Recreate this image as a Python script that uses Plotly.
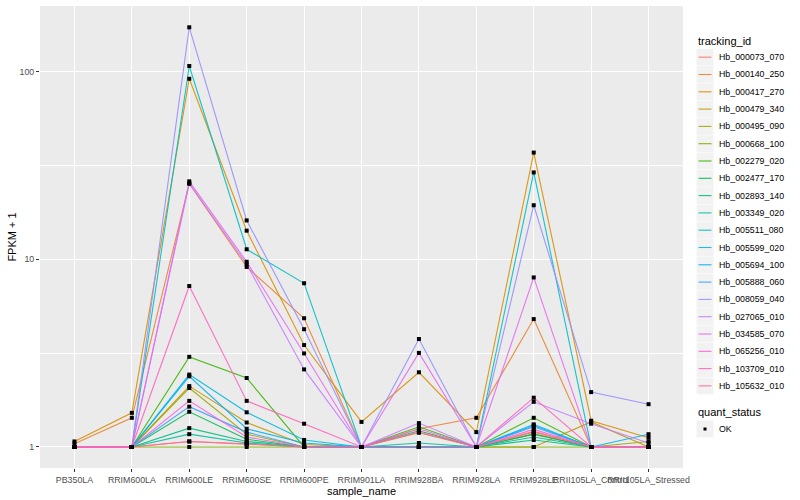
import plotly.graph_objects as go

samples = ["PB350LA", "RRIM600LA", "RRIM600LE", "RRIM600SE", "RRIM600PE", "RRIM901LA",
           "RRIM928BA", "RRIM928LA", "RRIM928LE", "RRII105LA_Control", "RRII105LA_Stressed"]

# FPKM + 1 values per tracking_id
hb_000073_070 = [1.00, 1.00, 1.07, 1.03, 1.00, 1.00, 1.00, 1.00, 1.21, 1.00, 1.00]
hb_000140_250 = [1.04, 1.43, 25.3, 9.1, 4.85, 1.00, 1.25, 1.43, 4.8, 1.00, 1.00]
hb_000417_270 = [1.07, 1.52, 91.5, 14.2, 3.49, 1.36, 2.5, 1.20, 37.0, 1.38, 1.12]
hb_000479_340 = [1.00, 1.00, 2.11, 1.35, 1.03, 1.00, 1.19, 1.00, 1.00, 1.36, 1.00]
hb_000495_090 = [1.00, 1.00, 2.06, 1.17, 1.00, 1.00, 1.00, 1.00, 1.17, 1.00, 1.07]
hb_000668_100 = [1.00, 1.00, 1.00, 1.00, 1.00, 1.00, 1.00, 1.00, 1.00, 1.00, 1.00]
hb_002279_020 = [1.00, 1.00, 3.02, 2.33, 1.00, 1.00, 1.28, 1.00, 1.43, 1.00, 1.00]
hb_002477_170 = [1.00, 1.00, 1.54, 1.10, 1.00, 1.00, 1.22, 1.00, 1.17, 1.00, 1.00]
hb_002893_140 = [1.00, 1.00, 1.26, 1.07, 1.00, 1.00, 1.00, 1.00, 1.09, 1.00, 1.00]
hb_003349_020 = [1.00, 1.00, 1.17, 1.05, 1.00, 1.00, 1.05, 1.00, 1.13, 1.00, 1.00]
hb_005511_080 = [1.00, 1.00, 107.0, 11.3, 7.45, 1.00, 1.00, 1.00, 29.0, 1.00, 1.00]
hb_005599_020 = [1.00, 1.00, 2.43, 1.53, 1.09, 1.00, 1.00, 1.00, 1.32, 1.00, 1.00]
hb_005694_100 = [1.00, 1.00, 2.38, 1.25, 1.05, 1.00, 1.00, 1.00, 1.30, 1.00, 1.17]
hb_005888_060 = [1.00, 1.00, 1.64, 1.20, 1.00, 1.00, 1.00, 1.00, 1.28, 1.00, 1.00]
hb_008059_040 = [1.00, 1.00, 172.0, 16.1, 4.24, 1.00, 3.76, 1.00, 19.4, 1.96, 1.69]
hb_027065_010 = [1.00, 1.00, 25.3, 9.4, 2.59, 1.00, 1.34, 1.00, 1.74, 1.33, 1.05]
hb_034585_070 = [1.00, 1.00, 26.0, 9.7, 3.15, 1.00, 3.17, 1.00, 8.0, 1.00, 1.00]
hb_065256_010 = [1.00, 1.00, 1.76, 1.13, 1.00, 1.00, 1.25, 1.00, 1.24, 1.00, 1.00]
hb_103709_010 = [1.00, 1.00, 7.2, 1.76, 1.33, 1.00, 1.20, 1.00, 1.83, 1.00, 1.00]
hb_105632_010 = [1.00, 1.00, 1.07, 1.04, 1.00, 1.00, 1.00, 1.00, 1.20, 1.00, 1.00]

tracking_ids = ["Hb_000073_070", "Hb_000140_250", "Hb_000417_270", "Hb_000479_340",
                "Hb_000495_090", "Hb_000668_100", "Hb_002279_020", "Hb_002477_170",
                "Hb_002893_140", "Hb_003349_020", "Hb_005511_080", "Hb_005599_020",
                "Hb_005694_100", "Hb_005888_060", "Hb_008059_040", "Hb_027065_010",
                "Hb_034585_070", "Hb_065256_010", "Hb_103709_010", "Hb_105632_010"]
series = [hb_000073_070, hb_000140_250, hb_000417_270, hb_000479_340, hb_000495_090,
          hb_000668_100, hb_002279_020, hb_002477_170, hb_002893_140, hb_003349_020,
          hb_005511_080, hb_005599_020, hb_005694_100, hb_005888_060, hb_008059_040,
          hb_027065_010, hb_034585_070, hb_065256_010, hb_103709_010, hb_105632_010]
colors = ["#F8766D", "#EA8331", "#D89000", "#C09B00", "#A3A500", "#7CAE00", "#39B600",
          "#00BB4E", "#00BF7D", "#00C1A3", "#00BFC4", "#00BAE0", "#00B0F6", "#35A2FF",
          "#9590FF", "#C77CFF", "#E76BF3", "#FA62DB", "#FF62BC", "#FF6C91"]
quant_status = ["OK"]

FONT = "Liberation Sans, Arial, Helvetica, sans-serif"
W, H = 800, 500
ML, MR, MT, MB = 40, 117, 6, 32
PW, PH = W - ML - MR, H - MT - MB


def px_x(px):
    return (px - ML) / PW


def px_y(py):
    return (H - MB - py) / PH


fig = go.Figure()
for name, vals, col in zip(tracking_ids, series, colors):
    fig.add_trace(go.Scatter(x=samples, y=vals, mode="lines", name=name,
                             line=dict(color=col, width=1.1), opacity=0.9,
                             showlegend=False, hoverinfo="skip"))

all_x = [s for vals in series for s in samples]
all_y = [v for vals in series for v in vals]
fig.add_trace(go.Scatter(x=all_x, y=all_y, mode="markers", name=quant_status[0],
                         marker=dict(color="black", size=4, symbol="square"),
                         showlegend=False))

shapes = []
annotations = []
# legend: tracking_id
annotations.append(dict(text="tracking_id", x=px_x(696), y=px_y(41), xref="paper", yref="paper",
                        xanchor="left", yanchor="middle", showarrow=False,
                        font=dict(family=FONT, size=11, color="black")))
step = 17.3
y0 = 57.2
for i, (name, col) in enumerate(zip(tracking_ids, colors)):
    cy = y0 + step * i
    shapes.append(dict(type="rect", xref="paper", yref="paper",
                       x0=px_x(696.5), x1=px_x(713.5), y0=px_y(cy - 8.4), y1=px_y(cy + 8.4),
                       fillcolor="#F2F2F2", line=dict(width=0), layer="above"))
    shapes.append(dict(type="line", xref="paper", yref="paper",
                       x0=px_x(698.5), x1=px_x(711.5), y0=px_y(cy), y1=px_y(cy),
                       line=dict(color=col, width=1.1), opacity=0.9, layer="above"))
    annotations.append(dict(text=name, x=px_x(716.5), y=px_y(cy), xref="paper", yref="paper",
                            xanchor="left", yanchor="middle", showarrow=False,
                            font=dict(family=FONT, size=8.8, color="black")))

# legend: quant_status
annotations.append(dict(text="quant_status", x=px_x(696), y=px_y(411.5), xref="paper", yref="paper",
                        xanchor="left", yanchor="middle", showarrow=False,
                        font=dict(family=FONT, size=11, color="black")))
cy = 429
shapes.append(dict(type="rect", xref="paper", yref="paper",
                   x0=px_x(696.5), x1=px_x(713.5), y0=px_y(cy - 8.4), y1=px_y(cy + 8.4),
                   fillcolor="#F2F2F2", line=dict(width=0), layer="above"))
shapes.append(dict(type="rect", xref="paper", yref="paper",
                   x0=px_x(703.5), x1=px_x(706.5), y0=px_y(cy - 1.5), y1=px_y(cy + 1.5),
                   fillcolor="black", line=dict(width=0), layer="above"))
annotations.append(dict(text=quant_status[0], x=px_x(716.5), y=px_y(cy), xref="paper", yref="paper",
                        xanchor="left", yanchor="middle", showarrow=False,
                        font=dict(family=FONT, size=8.8, color="black")))

fig.update_layout(
    width=W, height=H,
    margin=dict(l=ML, r=MR, t=MT, b=MB, pad=0),
    paper_bgcolor="white",
    plot_bgcolor="#EBEBEB",
    font=dict(family=FONT, size=8.8, color="#4D4D4D"),
    showlegend=False,
    shapes=shapes,
    annotations=annotations,
    xaxis=dict(
        type="category", categoryorder="array", categoryarray=samples,
        range=[-0.6, len(samples) - 0.4],
        showgrid=True, gridcolor="white", gridwidth=1.07,
        ticks="outside", ticklen=3, tickcolor="#333333", tickwidth=1,
        tickangle=0, showline=False, zeroline=False,
        tickfont=dict(family=FONT, size=8.8, color="#4D4D4D"),
        title=dict(text="sample_name", font=dict(family=FONT, size=11, color="black"), standoff=1),
        automargin=False,
    ),
    yaxis=dict(
        type="log", range=[-0.112, 2.349],
        tickmode="array", tickvals=[1, 10, 100], ticktext=["1", "10", "100"],
        showgrid=True, gridcolor="white", gridwidth=1.07,
        minor=dict(tickmode="array", tickvals=[3.1623, 31.623], showgrid=True,
                   gridcolor="white", gridwidth=0.53, ticklen=0),
        ticks="outside", ticklen=3, tickcolor="#333333", tickwidth=1,
        showline=False, zeroline=False,
        tickfont=dict(family=FONT, size=8.8, color="#4D4D4D"),
        title=dict(text="FPKM + 1", font=dict(family=FONT, size=11, color="black"), standoff=0),
        automargin=False,
    ),
)

fig.write_html("out.html", config={"displayModeBar": False},
               post_script="document.body.style.margin='0';")
